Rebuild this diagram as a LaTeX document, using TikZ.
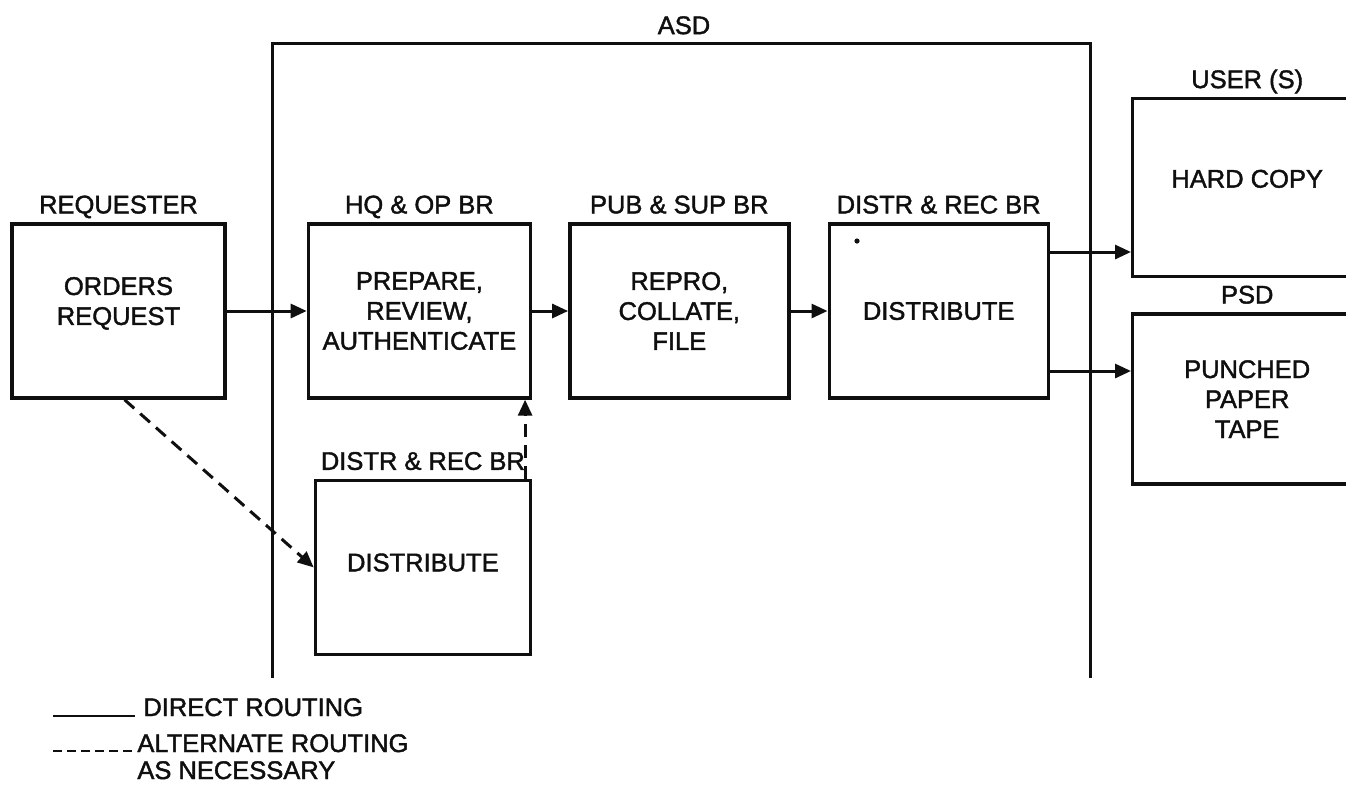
\documentclass[tikz,border=0pt]{standalone}
\usepackage{fontspec}
\setmainfont[FakeBold=1.6]{Liberation Sans}
\usetikzlibrary{arrows.meta,positioning}
\definecolor{ink}{RGB}{15,15,15}
\tikzset{
  blk/.style={draw=ink,line width=1.7pt,minimum width=#1,minimum height=87pt,
    inner sep=0pt,align=center},
  blk/.default=108pt,
  hdr/.style={inner sep=0pt,text height=9.2pt,text depth=0pt},
  frame/.style={draw=ink,line width=1.5pt},
  ar/.style={draw=ink,line width=1.5pt,-{Triangle[length=8pt,width=7pt]}},
  alter/.style={dash pattern=on 6.5pt off 4pt},
  key/.style={draw=ink,line width=1.1pt},
}

\begin{document}
\begin{tikzpicture}[x=0.5pt,y=-0.5pt,node distance=4.25pt,
    every node/.style={font=\fontsize{12.75}{15}\selectfont,text=ink}]
  \useasboundingbox (0,0) rectangle (1346,784);
  \clip (0,0) rectangle (1346,784);
  % ASD frame
  \draw[frame] (272,678) |- (1090,43) -- (1090,678);
  \coordinate (asdtop) at (684,43);
  \node[hdr,above=of asdtop] (asd) {ASD};

  \node[blk=106.5pt] (req) at (118.5,311) {ORDERS\\REQUEST\\[-5pt]};
  \node[blk=111pt,right=40pt of req] (hq) {PREPARE,\\REVIEW,\\AUTHENTICATE};
  \node[blk=109.5pt,right=18pt of hq] (pub) {REPRO,\\COLLATE,\\FILE};
  \node[blk=109.5pt,right=18.5pt of pub] (dis) {DISTRIBUTE};
  \node[blk=107.5pt,below=39.5pt of hq.south east,anchor=north east] (dis2) {DISTRIBUTE\\[-10pt]};
  \node[blk=114.5pt,minimum height=89pt,anchor=north west] (usr) at (1131,97) {HARD COPY\\[-6pt]};
  \node[blk=114.5pt,minimum height=85pt,below=17pt of usr] (psd) {PUNCHED\\PAPER\\TAPE};

  \node[hdr,above=of req] {REQUESTER};
  \node[hdr,above=of hq] {HQ \& OP BR};
  \node[hdr,above=of pub] {PUB \& SUP BR};
  \node[hdr,above=of dis] {DISTR \& REC BR};
  \node[hdr,above=of dis2] {DISTR \& REC BR};
  \node[hdr,above=of usr] {USER (S)};
  \node[hdr,above=of psd] {PSD};

  \fill[ink] (857,241) circle (1.3pt);

  \draw[ar] (req) -- (hq);
  \draw[ar] (hq) -- (pub);
  \draw[ar] (pub) -- (dis);
  \draw[ar] ([yshift=29.5pt]dis.east) -- ([yshift=29.5pt]dis.east -| usr.west);
  \draw[ar] ([yshift=-30pt]dis.east) -- ([yshift=-30pt]dis.east -| psd.west);
  \draw[ar,alter] ([xshift=3pt]req.south) -- (dis2.west);
  \draw[ar,alter] ([xshift=-3.5pt]dis2.north east) -- ([xshift=-3.5pt]hq.south east);

  % legend
  \node[hdr,anchor=base west] (dir) at (143,716) {DIRECT ROUTING};
  \node[hdr,anchor=base west] (alt) at (137,752) {ALTERNATE ROUTING};
  \node[hdr,anchor=base west] (nec) at (137,779) {AS NECESSARY};
  \coordinate (dirL) at (53,716);
  \coordinate (altL) at (53,751);
  \draw[key] (dirL) -- ([xshift=-4pt]dir.base west);
  \draw[key,dash pattern=on 4.5pt off 2.5pt] (altL) -- ([yshift=0.5pt]alt.base west);
\end{tikzpicture}
\end{document}
